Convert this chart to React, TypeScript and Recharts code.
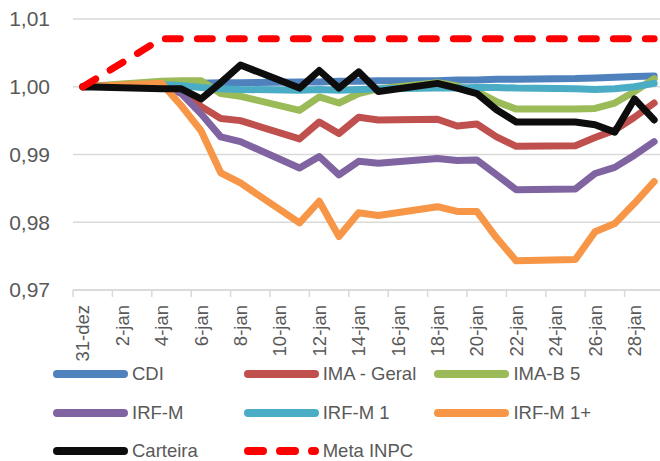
import { LineChart, Line, XAxis, YAxis, CartesianGrid, Legend } from 'recharts';

const dates = [
  '2020-12-31', '2021-01-04', '2021-01-05', '2021-01-06', '2021-01-07', '2021-01-08',
  '2021-01-11', '2021-01-12', '2021-01-13', '2021-01-14', '2021-01-15',
  '2021-01-18', '2021-01-19', '2021-01-20', '2021-01-21', '2021-01-22',
  '2021-01-25', '2021-01-26', '2021-01-27', '2021-01-28', '2021-01-29',
];

const cdi = [1.0, 1.0004, 1.0005, 1.0005, 1.0006, 1.0006, 1.0007, 1.0007, 1.0008, 1.0008, 1.0009, 1.0009, 1.001, 1.001, 1.0011, 1.0011, 1.0012, 1.0013, 1.0014, 1.0015, 1.0016];
const imaGeral = [1.0, 1.0004, 0.9992, 0.9971, 0.9953, 0.995, 0.9923, 0.9948, 0.9931, 0.9955, 0.9951, 0.9952, 0.9942, 0.9945, 0.9926, 0.9912, 0.9913, 0.9925, 0.9936, 0.9955, 0.9976];
const imaB5 = [1.0, 1.0008, 1.0009, 1.0009, 0.999, 0.9986, 0.9965, 0.9985, 0.9976, 0.999, 0.9997, 1.0006, 1.0001, 0.9993, 0.9978, 0.9967, 0.9967, 0.9968, 0.9976, 0.9993, 1.0012];
const irfM = [1.0, 1.0004, 0.999, 0.996, 0.9926, 0.9919, 0.988, 0.9897, 0.987, 0.989, 0.9887, 0.9894, 0.9891, 0.9892, 0.987, 0.9848, 0.9849, 0.9872, 0.9881, 0.9899, 0.9919];
const irfM1 = [1.0, 1.0003, 1.0002, 0.9999, 0.9997, 0.9996, 0.9995, 0.9996, 0.9995, 0.9996, 0.9997, 0.9998, 0.9998, 0.9999, 0.9999, 0.9998, 0.9997, 0.9996, 0.9997, 1.0, 1.0005];
const irfM1Plus = [1.0, 1.0005, 0.9972, 0.9935, 0.9873, 0.9858, 0.9799, 0.9831, 0.9779, 0.9814, 0.981, 0.9823, 0.9816, 0.9816, 0.9777, 0.9743, 0.9745, 0.9786, 0.9798, 0.9828, 0.986];
const carteira = [1.0, 0.9997, 0.9997, 0.9982, 1.0006, 1.0032, 0.9998, 1.0024, 0.9998, 1.0022, 0.9993, 1.0005, 0.9998, 0.999, 0.9966, 0.9948, 0.9948, 0.9944, 0.9933, 0.9982, 0.9951];
const metaInpc = [1.0, 1.0071, 1.0071, 1.0071, 1.0071, 1.0071, 1.0071, 1.0071, 1.0071, 1.0071, 1.0071, 1.0071, 1.0071, 1.0071, 1.0071, 1.0071, 1.0071, 1.0071, 1.0071, 1.0071, 1.0071];

const tickLabels = ['31-dez', '2-jan', '4-jan', '6-jan', '8-jan', '10-jan', '12-jan', '14-jan', '16-jan', '18-jan', '20-jan', '22-jan', '24-jan', '26-jan', '28-jan'];
const yTicks = [0.97, 0.98, 0.99, 1.0, 1.01];

const series = [
  { key: 'cdi', name: 'CDI', color: '#4F81BD', values: cdi },
  { key: 'imaGeral', name: 'IMA - Geral', color: '#C0504D', values: imaGeral },
  { key: 'imaB5', name: 'IMA-B 5', color: '#9BBB59', values: imaB5 },
  { key: 'irfM', name: 'IRF-M', color: '#8064A2', values: irfM },
  { key: 'irfM1', name: 'IRF-M 1', color: '#4BACC6', values: irfM1 },
  { key: 'irfM1Plus', name: 'IRF-M 1+', color: '#F79646', values: irfM1Plus },
  { key: 'carteira', name: 'Carteira', color: '#0D0D0D', values: carteira },
  { key: 'metaInpc', name: 'Meta INPC', color: '#FF0000', values: metaInpc, dash: '15 17' },
];

const DAY = 86400000;
const start = Date.parse(dates[0]);
const data = dates.map((d, i) => {
  const row: Record<string, number> = { day: (Date.parse(d) - start) / DAY };
  series.forEach((s) => {
    row[s.key] = s.values[i];
  });
  return row;
});

// labels sit in the middle of each day slot, tick marks on the slot edges (every 2 days)
const labelDays = tickLabels.map((_, i) => i * 2);
const xTicks = labelDays.flatMap((d) => [d - 0.5, d]);

const FONT = '"Liberation Sans", Arial, sans-serif';
const GREY = '#595959';

const XTick = ({ x, y, payload }: any) => {
  const v = payload.value as number;
  if (!Number.isInteger(v)) {
    return <line x1={x} y1={y} x2={x} y2={y + 7} stroke="#D9D9D9" strokeWidth={1.5} />;
  }
  const label = tickLabels[v / 2];
  return (
    <text
      x={x}
      y={y + 15}
      transform={`rotate(-90, ${x}, ${y + 15})`}
      textAnchor="end"
      dy="0.35em"
      fill={GREY}
      fontSize={18.5}
      fontFamily={FONT}
    >
      {label}
    </text>
  );
};

const renderLegend = () => (
  <div
    style={{
      display: 'grid',
      gridTemplateColumns: 'repeat(3, 190.7px)',
      gridAutoRows: '38.5px',
      paddingLeft: 53,
      fontFamily: FONT,
      fontSize: 18.5,
      color: GREY,
    }}
  >
    {series.map((s) => (
      <div key={s.key} style={{ display: 'flex', alignItems: 'center', whiteSpace: 'nowrap' }}>
        <svg width={76} height={10} style={{ display: 'block' }}>
          <line
            x1={4}
            y1={5}
            x2={71}
            y2={5}
            stroke={s.color}
            strokeWidth={8}
            strokeLinecap="round"
            strokeDasharray={s.dash}
          />
        </svg>
        <span style={{ marginLeft: 3 }}>{s.name}</span>
      </div>
    ))}
  </div>
);

export default function App() {
  return (
    <div style={{ position: 'absolute', left: 0, top: 0, width: 660, height: 461, overflow: 'hidden', background: '#fff' }}>
      <LineChart width={664} height={461} data={data} margin={{ top: 19, right: 0, bottom: 101, left: 0 }}>
        <CartesianGrid vertical={false} stroke="#D9D9D9" strokeWidth={1.5} />
        <XAxis
          type="number"
          dataKey="day"
          domain={[-0.5, 29.5]}
          ticks={xTicks}
          interval={0}
          height={70}
          tickSize={0}
          tickMargin={0}
          tickLine={false}
          axisLine={{ stroke: '#D9D9D9', strokeWidth: 1.5 }}
          tick={<XTick />}
        />
        <YAxis
          domain={[0.97, 1.01]}
          ticks={yTicks}
          width={73}
          tickSize={0}
          tickMargin={23}
          tickLine={false}
          axisLine={false}
          allowDataOverflow
          tick={{ fill: GREY, fontSize: 21, fontFamily: FONT }}
          tickFormatter={(v: number) => v.toFixed(2).replace('.', ',')}
        />
        <Legend
          layout="horizontal"
          verticalAlign="middle"
          align="center"
          wrapperStyle={{ top: 354.75, left: 0, width: 660 }}
          content={renderLegend}
        />
        {series.map((s) => (
          <Line
            key={s.key}
            type="linear"
            dataKey={s.key}
            name={s.name}
            stroke={s.color}
            strokeWidth={7}
            strokeLinecap="round"
            strokeLinejoin="round"
            strokeDasharray={s.dash}
            dot={false}
            activeDot={false}
            isAnimationActive={false}
          />
        ))}
      </LineChart>
    </div>
  );
}
